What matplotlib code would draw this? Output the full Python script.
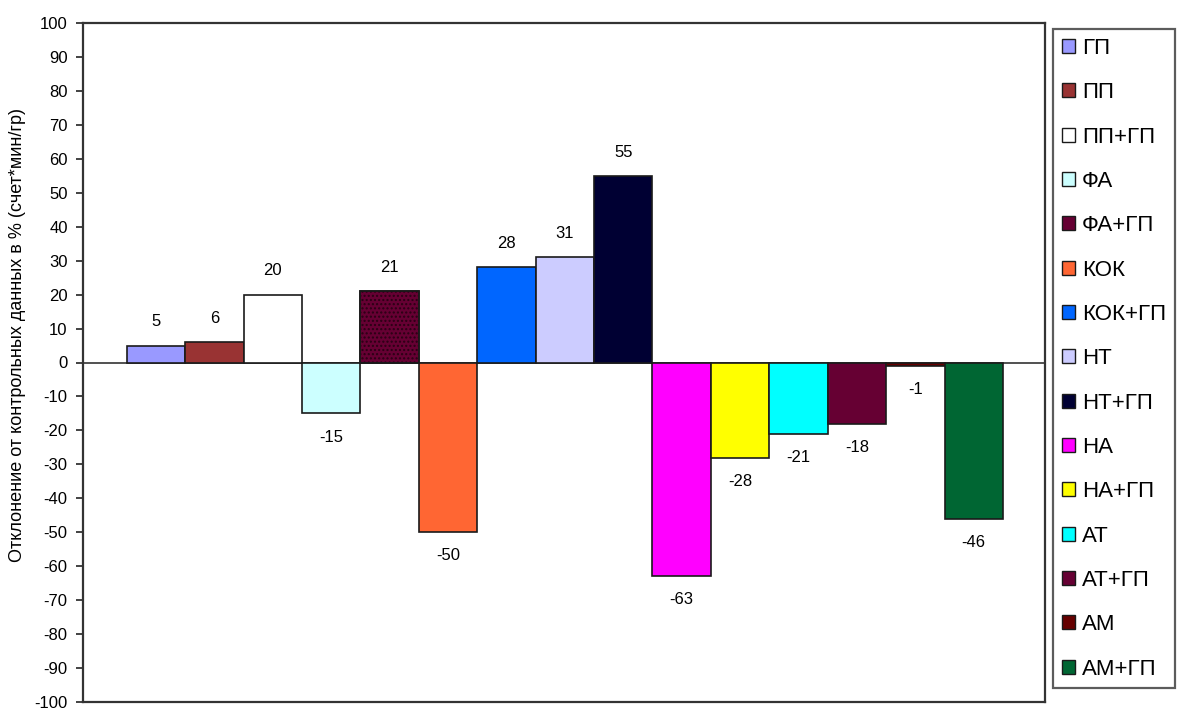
import matplotlib
matplotlib.use("Agg")
import matplotlib.pyplot as plt
from matplotlib.patches import Patch

plt.rcParams["font.family"] = ["Liberation Sans", "DejaVu Sans"]

GROUPS = ["ГП", "ПП", "ПП+ГП", "ФА", "ФА+ГП", "КОК", "КОК+ГП", "НТ",
          "НТ+ГП", "НА", "НА+ГП", "АТ", "АТ+ГП", "АМ", "АМ+ГП"]
VALUES = [5, 6, 20, -15, 21, -50, 28, 31, 55, -63, -28, -21, -18, -1, -46]
COLORS = ["#9999ff", "#993333", "#ffffff", "#ccffff", "#660033", "#ff6633",
          "#0066ff", "#ccccff", "#000033", "#ff00ff", "#ffff00", "#00ffff",
          "#660033", "#660000", "#006633"]
HATCHED = ["ФА+ГП"]
Y_TICKS = list(range(-100, 101, 10))
Y_LABEL = "Отклонение от контрольных данных в % (счет*мин/гр)"

EDGE = "#1a1a1a"

fig = plt.figure(figsize=(11.84, 7.08), dpi=100)
ax = fig.add_axes([83 / 1184, 6 / 708, (1045 - 83) / 1184, (702 - 23) / 708])

x = list(range(len(GROUPS)))
bars = ax.bar(x, VALUES, width=1.0, color=COLORS, edgecolor=EDGE,
              linewidth=1.2, zorder=3)

# fine dotted texture on the combined phenazepam bar
for i, g in enumerate(GROUPS):
    if g in HATCHED:
        ax.bar(x[i], VALUES[i], width=1.0, color="none", edgecolor="#2a0014",
               hatch="....", linewidth=0, zorder=4)
        ax.bar(x[i], VALUES[i], width=1.0, color="none", edgecolor=EDGE,
               linewidth=1.2, zorder=5)

for xi, v in zip(x, VALUES):
    off = 17 if v >= 0 else -17
    ax.annotate(f"{v}", (xi, v), xytext=(0, off), textcoords="offset points",
                ha="center", va="center", fontsize=12, color="black")

ax.axhline(0, color="#333333", linewidth=1.2, zorder=2)

ax.set_ylim(-100, 100)
ax.set_xlim(-1.25, 15.22)
ax.set_yticks(Y_TICKS)
ax.set_yticklabels([str(t) for t in Y_TICKS], fontsize=12)
ax.set_xticks([])
ax.tick_params(axis="y", direction="out", length=5, width=1.2, pad=6,
               colors="#222222", labelcolor="black")
for s in ax.spines.values():
    s.set_linewidth(1.6)
    s.set_color("#333333")

fig.text(18 / 1184, 1 - 335 / 708, Y_LABEL, rotation=90, ha="center",
         va="center", fontsize=13)

handles = [Patch(facecolor=c, edgecolor=EDGE, linewidth=1.0) for c in COLORS]
leg = fig.legend(handles, GROUPS, loc="upper left",
                 bbox_to_anchor=(1053 / 1184, 1 - 29 / 708),
                 fontsize=16, frameon=True, fancybox=False, edgecolor="#333333",
                 handlelength=0.6, handleheight=0.6, handletextpad=0.3,
                 labelspacing=1.05, borderpad=0.4, borderaxespad=0)
leg.get_frame().set_linewidth(1.6)

fig.savefig("out.png", dpi=100)
